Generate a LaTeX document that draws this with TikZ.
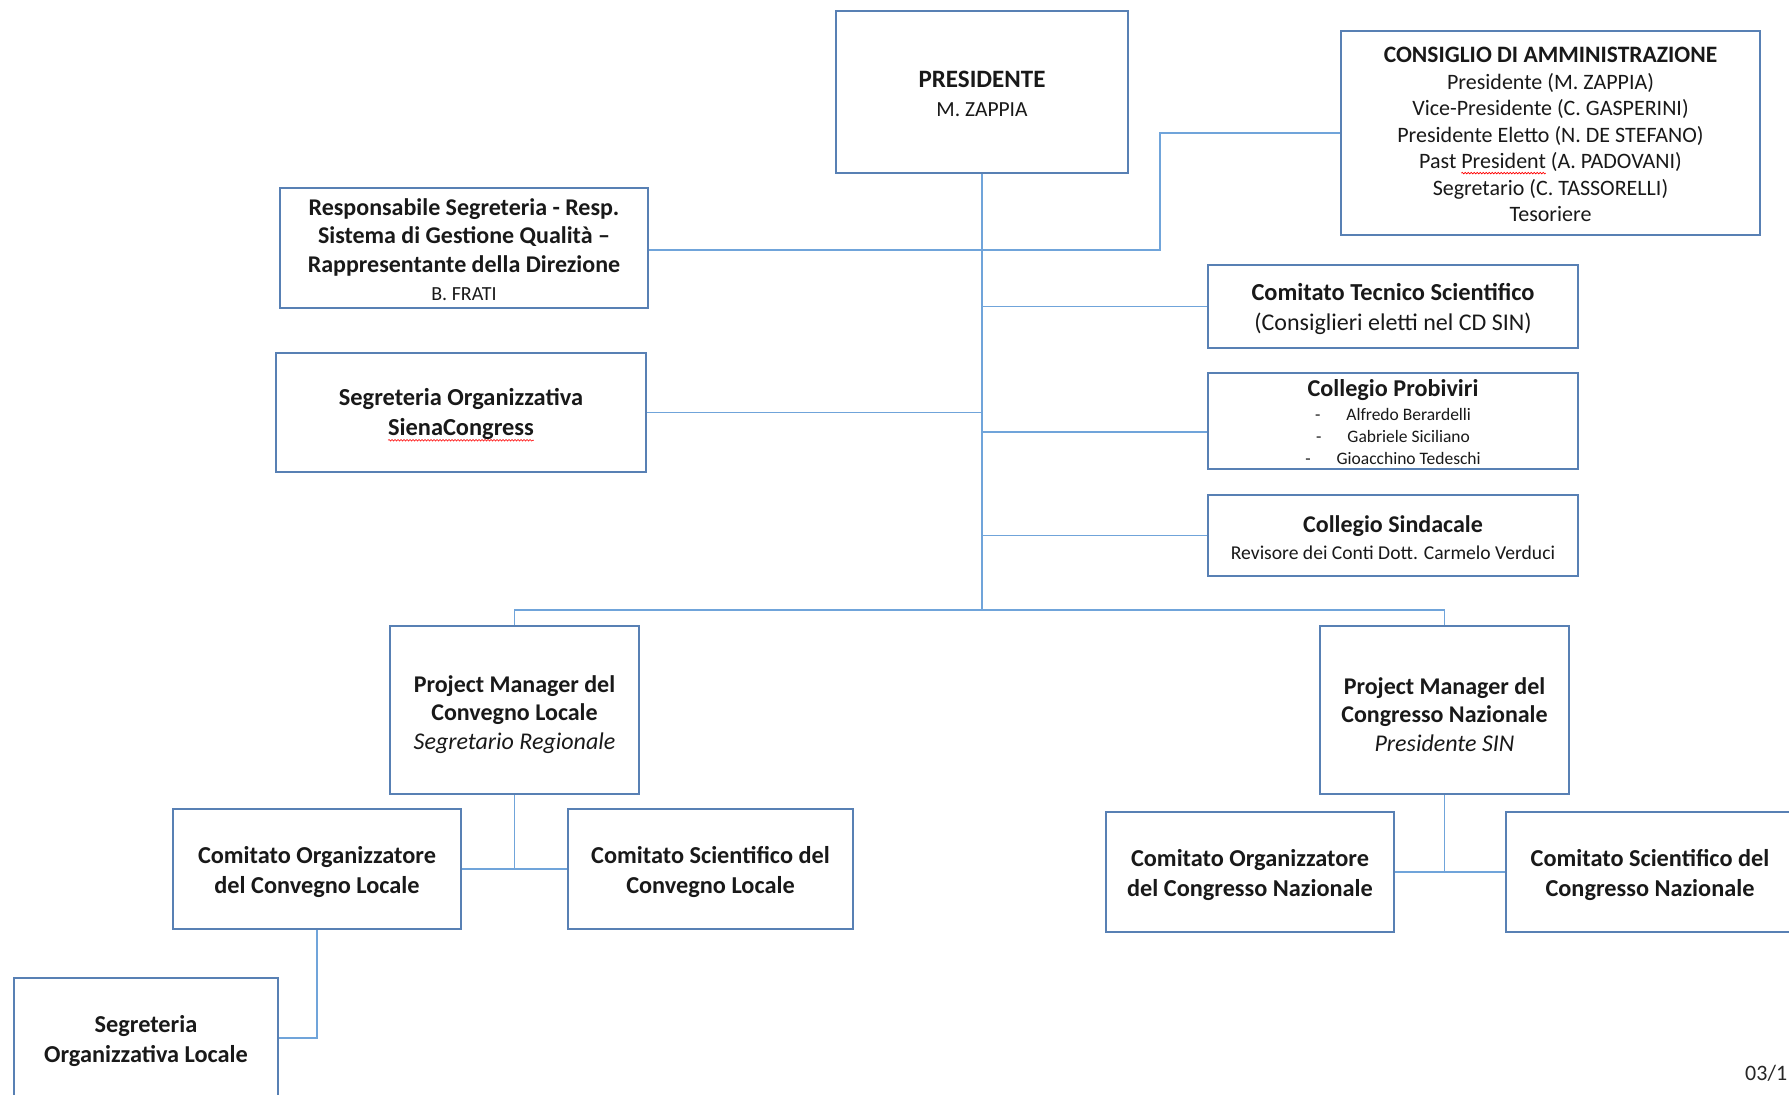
\documentclass[tikz,border=0pt]{standalone}
\usepackage{fontspec}
\setmainfont{Carlito}
\usetikzlibrary{decorations.pathmorphing}
\newcommand\redwave[1]{\setbox0\hbox{#1}\rlap{\copy0}\tikz[baseline=0pt,x=1pt,y=1pt]{\useasboundingbox (0pt,0pt) rectangle (\wd0,0.1pt);\draw[red,line width=0.6pt,decorate,decoration={snake,amplitude=0.8pt,segment length=3pt}] (0pt,-4.5pt) -- (\wd0,-4.5pt);}}
\definecolor{boxc}{RGB}{88,128,180}
\definecolor{linec}{RGB}{112,164,218}
\tikzset{
  box/.style={draw=boxc, line width=1.6pt, inner sep=0pt},
  txt/.style={align=center, inner sep=0pt, text=black!90, font=\fontsize{24}{28}\selectfont},
  conn/.style={draw=linec, line width=1.6pt},
}
\newcommand\sz[2]{\fontsize{#1}{#2}\selectfont}
\begin{document}
\begin{tikzpicture}[x=1pt,y=-1pt]
\useasboundingbox[fill=white] (0,0) rectangle (1789,1095);
% boxes
\node[box, minimum width=292pt, minimum height=162pt] (pres) at (982,92) {};
\node[box, minimum width=419pt, minimum height=204pt] (cda) at (1550.5,133) {};
\node[box, minimum width=368pt, minimum height=120pt] (resp) at (464,248) {};
\node[box, minimum width=370pt, minimum height=119pt] (sorg) at (461,412.5) {};
\node[box, minimum width=370pt, minimum height=83pt] (ctec) at (1393,306.5) {};
\node[box, minimum width=370pt, minimum height=96pt] (cprob) at (1393,421) {};
\node[box, minimum width=370pt, minimum height=81pt] (csind) at (1393,535.5) {};
\node[box, minimum width=249pt, minimum height=168pt] (pmcv) at (514.5,710) {};
\node[box, minimum width=249pt, minimum height=168pt] (pmcg) at (1444.5,710) {};
\node[box, minimum width=288pt, minimum height=120pt] (corgcv) at (317,869) {};
\node[box, minimum width=285pt, minimum height=120pt] (cscicv) at (710.5,869) {};
\node[box, minimum width=288pt, minimum height=120pt] (corgcg) at (1250,872) {};
\node[box, minimum width=288pt, minimum height=120pt] (cscicg) at (1650,872) {};
\node[box, minimum width=264pt, minimum height=120pt] (sloc) at (146,1038) {};
% texts
\node[txt, font=\sz{25}{28.5}] (pres-t) at ([yshift=-2pt]pres.center)
  {\textbf{PRESIDENTE}\\{\sz{21.5}{28.5}M. ZAPPIA}};
\node[txt, font=\sz{22}{26.5}] (cda-t) at ([yshift=-1.5pt]cda.center)
  {{\sz{23.5}{26.5}\textbf{CONSIGLIO DI AMMINISTRAZIONE}}\\Presidente (M. ZAPPIA)\\Vice-Presidente (C. GASPERINI)\\Presidente Eletto (N. DE STEFANO)\\Past \redwave{President} (A. PADOVANI)\\Segretario (C. TASSORELLI)\\Tesoriere};
\node[txt, font=\sz{24}{28.5}] (resp-t) at ([yshift=-1.5pt]resp.center)
  {\textbf{Responsabile Segreteria - Resp.}\\\textbf{Sistema di Gestione Qualità –}\\\textbf{Rappresentante della Direzione}\\{\sz{20}{28.5}B. FRATI}};
\node[txt, font=\sz{24.4}{30.5}] (sorg-t) at ([yshift=-1.5pt]sorg.center)
  {\textbf{Segreteria Organizzativa}\\\textbf{\redwave{SienaCongress}}};
\node[txt, font=\sz{24.4}{30}] (ctec-t) at ([yshift=-2.5pt]ctec.center)
  {\textbf{Comitato Tecnico Scientifico}\\{\sz{24}{30}(Consiglieri eletti nel CD SIN)}};
\node[txt, font=\sz{24.2}{21.7}] (cprob-t) at ([yshift=-1pt]cprob.center)
  {\textbf{Collegio Probiviri}\\[2.3pt]{\sz{17.5}{21.7}-\hspace{26pt}Alfredo Berardelli}\\{\sz{17.5}{21.7}-\hspace{26pt}Gabriele Siciliano}\\{\sz{17.5}{21.7}-\hspace{26pt}Gioacchino Tedeschi}};
\node[txt, font=\sz{24}{27}] (csind-t) at ([yshift=-2.5pt]csind.center)
  {\textbf{Collegio Sindacale}\\{\sz{19.6}{27}Revisore dei Conti Dott. Carmelo Verduci}};
\node[txt, font=\sz{24}{28.5}] (pmcv-t) at ([yshift=-4.5pt]pmcv.center)
  {\textbf{Project Manager del}\\\textbf{Convegno Locale}\\\textit{Segretario Regionale}};
\node[txt, font=\sz{24}{28.5}] (pmcg-t) at ([yshift=-4.5pt]pmcg.center)
  {\textbf{Project Manager del}\\\textbf{Congresso Nazionale}\\\textit{Presidente SIN}};
\node[txt, font=\sz{24.3}{30}] (corgcv-t) at ([yshift=-3.4pt]corgcv.center)
  {\textbf{Comitato Organizzatore}\\\textbf{del Convegno Locale}};
\node[txt, font=\sz{24.3}{30}] (cscicv-t) at ([yshift=-3.4pt]cscicv.center)
  {\textbf{Comitato Scientifico del}\\\textbf{Convegno Locale}};
\node[txt, font=\sz{24.3}{30}] (corgcg-t) at ([yshift=-3.4pt]corgcg.center)
  {\textbf{Comitato Organizzatore}\\\textbf{del Congresso Nazionale}};
\node[txt, font=\sz{24.3}{30}] (cscicg-t) at ([yshift=-3.4pt]cscicg.center)
  {\textbf{Comitato Scientifico del}\\\textbf{Congresso Nazionale}};
\node[txt, font=\sz{24.3}{30}] (sloc-t) at ([yshift=-3.4pt]sloc.center)
  {\textbf{Segreteria}\\\textbf{Organizzativa Locale}};
\node[anchor=west, inner sep=0pt, font=\sz{22}{26}, text=black!85] (date) at (1745,1073) {03/1};
% connectors
\coordinate (cdaj) at (1160,250);
\coordinate (bar) at (981,610);
\draw[conn] (pres.south) -- (pres.south |- bar);
\draw[conn] (pres.south) |- ([yshift=-2pt]resp.east);
\draw[conn] (cda.west) -| (cdaj) -- (cdaj -| pres.south);
\draw[conn] (pres.south) |- (sorg.east);
\draw[conn] (pres.south) |- (ctec.west);
\draw[conn] (pres.south) |- ([yshift=-11pt]cprob.west);
\draw[conn] (pres.south) |- (csind.west);
\draw[conn] (pmcv.north) |- (bar) -| (pmcg.north);
\draw[conn] (pmcv.south) |- (corgcv.east);
\draw[conn] (corgcv.east) -- (cscicv.west);
\draw[conn] (pmcg.south) |- (corgcg.east);
\draw[conn] (corgcg.east) -- (cscicg.west);
\draw[conn] (corgcv.south) |- (sloc.east);
\end{tikzpicture}
\end{document}
